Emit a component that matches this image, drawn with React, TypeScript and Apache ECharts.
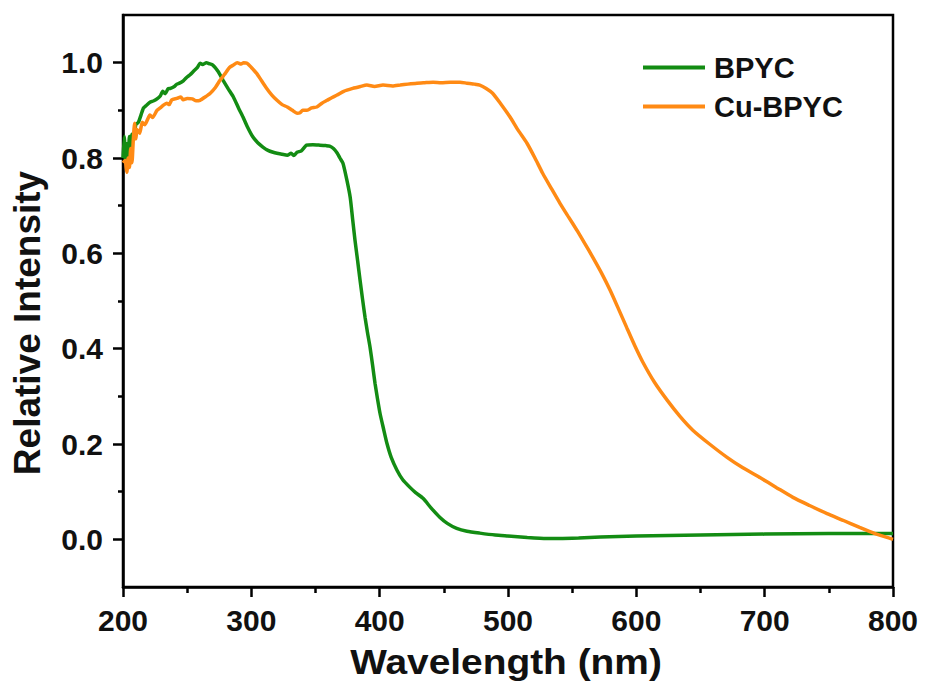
import React, { useEffect, useRef } from "react";
import * as echarts from "echarts";

const bpycWavelength = [
  200, 201, 202, 203, 204, 205, 206, 207, 208, 210, 212, 214, 216, 218, 221, 224, 227, 229, 231, 233,
  235, 237, 240, 242, 244, 247, 250, 252, 255, 258, 260, 262, 265, 267, 270, 274, 278, 282, 286, 290,
  293.5, 297, 301, 305, 309, 313, 317, 320, 324, 328, 331, 333, 335.6, 339, 343, 348, 353.5, 358, 361, 364,
  367, 369, 371.4, 374.5, 377, 379, 380.8, 382.8, 384.7, 386.6, 388.6, 390.5, 392.5, 394.5, 396.4, 398.3, 400.3, 403, 405.7, 409,
  413.5, 418, 423.6, 428, 433.8, 440, 447, 453, 460, 468, 478, 490, 500, 515, 530, 540, 555, 572, 600, 650,
  700, 750, 800,
];
const bpycValues = [
  0.8, 0.845, 0.79, 0.83, 0.8, 0.845, 0.82, 0.85, 0.84, 0.87, 0.875, 0.89, 0.905, 0.91, 0.917, 0.92, 0.925, 0.93, 0.94, 0.935,
  0.945, 0.946, 0.95, 0.955, 0.957, 0.962, 0.97, 0.974, 0.982, 0.99, 0.999, 0.996, 1.0, 0.998, 0.995, 0.982, 0.963, 0.945, 0.928, 0.905,
  0.886, 0.865, 0.845, 0.832, 0.823, 0.816, 0.812, 0.81, 0.808, 0.806, 0.81, 0.805, 0.812, 0.815, 0.827, 0.828, 0.827, 0.826, 0.825, 0.82,
  0.81, 0.8, 0.789, 0.753, 0.718, 0.67, 0.627, 0.585, 0.544, 0.505, 0.466, 0.434, 0.403, 0.365, 0.327, 0.295, 0.264, 0.232, 0.201, 0.172,
  0.145, 0.125, 0.109, 0.098, 0.086, 0.066, 0.046, 0.033, 0.023, 0.017, 0.013, 0.009, 0.007, 0.004, 0.002, 0.002, 0.003, 0.005, 0.007, 0.009,
  0.011, 0.012, 0.012,
];

const cuWavelength = [
  200, 201.6, 203, 204, 205, 206, 207, 208, 209, 210, 211, 213, 215, 217, 219, 221, 223, 226.5, 229, 231,
  234, 236, 238, 242, 245, 247, 250, 254, 257, 260, 264, 268, 272, 275.6, 279, 283, 286, 289, 292, 294,
  296.6, 300, 304, 308, 312, 316, 320, 324, 328, 332, 335.6, 338, 340, 343, 347, 351, 355, 359, 363, 366.8,
  372, 379, 385, 390, 396, 402.6, 410, 416, 422, 429, 435, 441.6, 448, 455, 462.6, 468, 474, 478, 483, 488,
  494, 501.6, 508, 514.8, 521, 527, 534, 540.5, 547, 553.8, 560, 566, 573, 579.5, 586, 592.7, 599, 605, 614, 624,
  634, 644, 657, 670.7, 683, 696, 709, 722, 735, 748.6, 761, 774, 786, 797.7, 800,
];
const cuValues = [
  0.79, 0.795, 0.77, 0.8, 0.78, 0.82, 0.79, 0.837, 0.873, 0.84, 0.86, 0.852, 0.875, 0.87, 0.88, 0.89, 0.885, 0.9, 0.905, 0.91,
  0.915, 0.912, 0.922, 0.925, 0.928, 0.922, 0.925, 0.924, 0.92, 0.921, 0.928, 0.936, 0.948, 0.963, 0.975, 0.99, 0.995, 1.0, 0.997, 1.0,
  0.999, 0.99, 0.978, 0.962, 0.946, 0.932, 0.921, 0.912, 0.907, 0.9, 0.894, 0.895, 0.9, 0.9, 0.905, 0.907, 0.915, 0.921, 0.927, 0.932,
  0.94, 0.946, 0.95, 0.953, 0.95, 0.953, 0.951, 0.953, 0.955, 0.957, 0.958, 0.959, 0.958, 0.959, 0.959, 0.957, 0.955, 0.953, 0.946, 0.936,
  0.915, 0.886, 0.858, 0.831, 0.8, 0.768, 0.735, 0.705, 0.677, 0.648, 0.62, 0.592, 0.558, 0.523, 0.484, 0.443, 0.405, 0.372, 0.33, 0.292,
  0.258, 0.229, 0.2, 0.172, 0.15, 0.13, 0.109, 0.088, 0.071, 0.054, 0.04, 0.025, 0.012, 0.002, 0.0,
];

const yMajorTicks = [0, 0.2, 0.4, 0.6, 0.8, 1.0];
const yMinorTicks = [0.1, 0.3, 0.5, 0.7, 0.9];

const FONT = "'Liberation Sans', Arial, sans-serif";

export default function App() {
  const ref = useRef<HTMLDivElement>(null);
  useEffect(() => {
    if (!ref.current) return;
    const chart = echarts.init(ref.current, undefined, { renderer: "svg" });
    const pair = (xs: number[], ys: number[]) => xs.map((x, i) => [x, ys[i]]);
    chart.setOption({
      animation: false,
      backgroundColor: "#fff",
      grid: {
        left: 123,
        right: 32,
        top: 15,
        bottom: 99,
        show: true,
        borderColor: "#000",
        borderWidth: 2.5,
        outerBoundsMode: "none",
      },
      legend: {
        orient: "vertical",
        left: 638,
        top: 48,
        icon: "rect",
        itemWidth: 62,
        itemHeight: 4,
        itemGap: 10,
        textStyle: {
          fontFamily: FONT,
          fontWeight: "bold",
          fontSize: 29,
          lineHeight: 28,
          color: "#111",
          padding: [0, 0, 0, 4],
        },
        data: ["BPYC", "Cu-BPYC"],
      },
      xAxis: {
        type: "value",
        min: 200,
        max: 800,
        interval: 100,
        axisLine: { show: true, onZero: false, lineStyle: { color: "#000", width: 2.5 } },
        axisTick: { show: true, length: 10, lineStyle: { color: "#000", width: 2.5 } },
        minorTick: { show: true, splitNumber: 2, length: 6, lineStyle: { color: "#000", width: 2.5 } },
        splitLine: { show: false },
        axisLabel: {
          margin: 18,
          fontFamily: FONT,
          fontWeight: "bold",
          fontSize: 30,
          color: "#111",
        },
      },
      yAxis: [
        {
          type: "value",
          min: -0.1,
          max: 1.1,
          axisLine: { show: true, onZero: false, lineStyle: { color: "#000", width: 2.5 } },
          axisTick: {
            show: true,
            length: 10,
            customValues: yMajorTicks,
            lineStyle: { color: "#000", width: 2.5 },
          },
          splitLine: { show: false },
          axisLabel: {
            customValues: yMajorTicks,
            margin: 20,
            fontFamily: FONT,
            fontWeight: "bold",
            fontSize: 30,
            color: "#111",
            formatter: (v: number) => v.toFixed(1),
          },
        },
        {
          type: "value",
          min: -0.1,
          max: 1.1,
          position: "left",
          axisLine: { show: false, onZero: false },
          axisTick: {
            show: true,
            length: 5,
            customValues: yMinorTicks,
            lineStyle: { color: "#000", width: 2.5 },
          },
          splitLine: { show: false },
          axisLabel: { show: false },
        },
      ],
      graphic: [
        {
          type: "text",
          x: 27,
          y: 323,
          rotation: Math.PI / 2,
          style: {
            text: "Relative Intensity",
            font: `bold 37px ${FONT}`,
            fill: "#111",
            align: "center",
            verticalAlign: "middle",
          },
        },
        {
          type: "text",
          x: 506,
          y: 662,
          scaleX: 1.08,
          style: {
            text: "Wavelength (nm)",
            font: `bold 36px ${FONT}`,
            fill: "#111",
            align: "center",
            verticalAlign: "middle",
          },
        },
      ],
      series: [
        {
          name: "BPYC",
          type: "line",
          symbol: "none",
          showSymbol: false,
          smooth: 0.2,
          yAxisIndex: 0,
          lineStyle: { color: "#138c13", width: 3.5 },
          itemStyle: { color: "#138c13" },
          data: pair(bpycWavelength, bpycValues),
        },
        {
          name: "Cu-BPYC",
          type: "line",
          symbol: "none",
          showSymbol: false,
          smooth: 0.2,
          yAxisIndex: 0,
          lineStyle: { color: "#ff8a14", width: 3.5 },
          itemStyle: { color: "#ff8a14" },
          data: pair(cuWavelength, cuValues),
        },
      ],
    });
    return () => chart.dispose();
  }, []);
  return (
    <div
      ref={ref}
      style={{ position: "fixed", left: 0, top: 0, width: 925, height: 686 }}
    />
  );
}
